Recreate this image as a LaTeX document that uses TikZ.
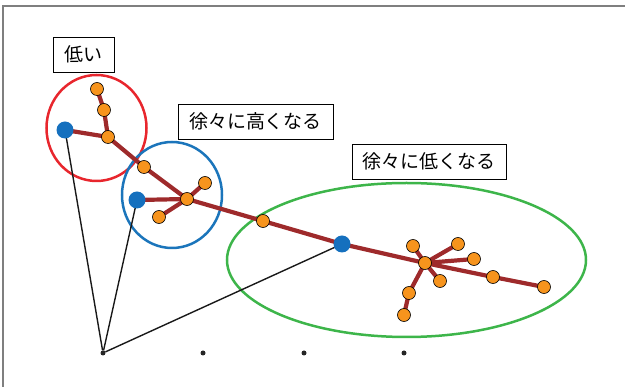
\documentclass[tikz,border=0pt]{standalone}
\usepackage{fontspec}
\newfontfamily\jpfont{Noto Sans CJK JP}
\definecolor{branchred}{HTML}{9E2A2B}
\definecolor{leaforange}{HTML}{F7941D}
\definecolor{rootblue}{HTML}{1570BE}
\definecolor{ringred}{HTML}{E8262D}
\definecolor{ringblue}{HTML}{1B75BB}
\definecolor{ringgreen}{HTML}{3DB54A}
\definecolor{framegray}{HTML}{7F7F7F}
\usetikzlibrary{shapes,positioning}

\begin{document}
\begin{tikzpicture}[
  x=1pt, y=-1pt,
  leaf/.style={circle, draw=black, line width=0.6pt, fill=leaforange, minimum size=13pt, inner sep=0pt},
  seed/.style={circle, fill=rootblue, minimum size=17pt, inner sep=0pt},
  tick/.style={circle, fill=black!85, minimum size=5pt, inner sep=0pt},
  tag/.style={rectangle, draw=black, line width=0.9pt, fill=white, minimum height=35pt, inner sep=0pt, font=\jpfont\fontsize{19}{22}\selectfont},
  branch/.style={draw=branchred, line width=4.2pt},
  spoke/.style={draw=black!90, line width=1.4pt},
  ring/.style={line width=2.5pt},
]
\useasboundingbox (0,0) rectangle (625,387);
\draw[framegray, line width=1.5pt] (3,387) -- (3,6) -- (625,6);

% groups
\draw[ring, ringred] (96.5,128) ellipse [x radius=50pt, y radius=53pt];
\draw[ring, ringblue] (172,195) ellipse [x radius=50pt, y radius=53pt];
\draw[ring, ringgreen] (406.5,260) ellipse [x radius=179.5pt, y radius=77pt];

% labels
\node[tag, minimum width=61pt] (low) at (83.5,54.5) {低い};
\node[tag, minimum width=155pt] (up) at (255.5,121.5) {徐々に高くなる};
\node[tag, minimum width=154pt] (down) at (429,161.5) {徐々に低くなる};

% root and ticks
\node[tick] (o) at (103,353) {};
\node[tick] (t1) at (203,353) {};
\node[tick] (t2) at (304,353) {};
\node[tick] (t3) at (404,353) {};

% tree nodes
\coordinate (b1) at (65,130);
\coordinate (b2) at (137,200);
\coordinate (b3) at (342,244);
\coordinate (h1) at (108,137);
\coordinate (a1) at (104,110);
\coordinate (a2) at (97,89);
\coordinate (a3) at (144,167);
\coordinate (h2) at (187,199);
\coordinate (a4) at (205,183);
\coordinate (a5) at (159,217);
\coordinate (a6) at (263,221);
\coordinate (h3) at (425,263);
\coordinate (c1) at (413,246);
\coordinate (c2) at (458,244);
\coordinate (c3) at (474,259);
\coordinate (c4) at (440,281);
\coordinate (c5) at (493,277);
\coordinate (c6) at (544,287);
\coordinate (c7) at (409,293);
\coordinate (c8) at (404,315);

\draw[spoke] (o) -- (b1);
\draw[spoke] (o) -- (b2);
\draw[spoke] (o) -- (b3);

\draw[branch] (b1) -- (h1) -- (a1) -- (a2);
\draw[branch] (h1) -- (a3) -- (h2) -- (b2);
\draw[branch] (h2) -- (a4);
\draw[branch] (h2) -- (a5);
\draw[branch] (h2) -- (a6) -- (b3) -- (h3);
\draw[branch] (h3) -- (c1);
\draw[branch] (h3) -- (c2);
\draw[branch] (h3) -- (c3);
\draw[branch] (h3) -- (c4);
\draw[branch] (h3) -- (c5) -- (c6);
\draw[branch] (h3) -- (c7) -- (c8);

\foreach \p in {h1,a1,a2,a3,h2,a4,a5,a6,h3,c1,c2,c3,c4,c5,c6,c7,c8}
  \node[leaf] at (\p) {};
\foreach \p in {b1,b2,b3}
  \node[seed] at (\p) {};
\end{tikzpicture}
\end{document}
